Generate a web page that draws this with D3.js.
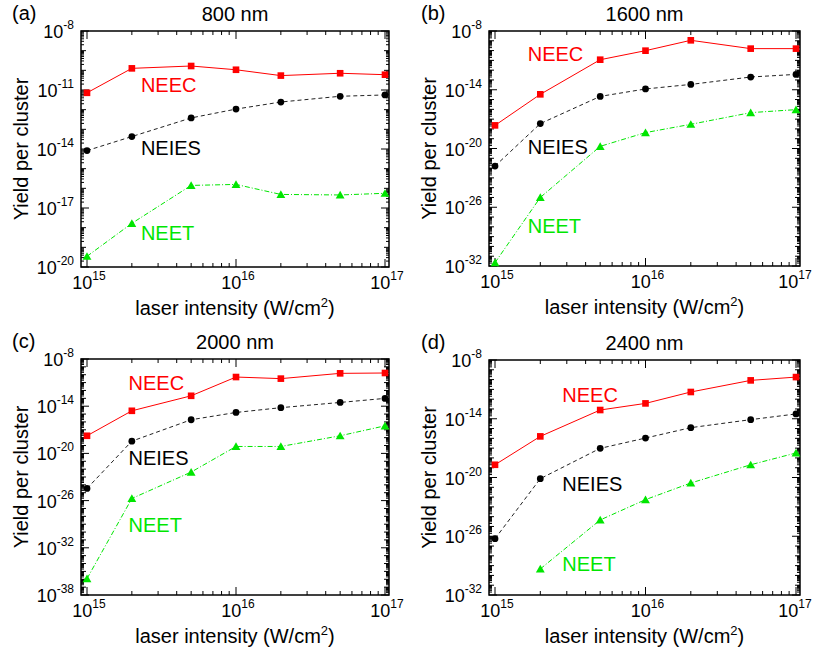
<!DOCTYPE html>
<html>
<head>
<meta charset="utf-8">
<script src="https://cdn.jsdelivr.net/npm/d3@7"></script>
<style>
  body { margin: 0; background: #fff; }
  svg { font-family: "Liberation Sans", Arial, sans-serif; }
</style>
</head>
<body>
<div id="chart"></div>
<script>
// laser intensity (W/cm2), same for all panels
var intensity = [1e15, 2e15, 5e15, 1e16, 2e16, 5e16, 1e17];

// yield per cluster
var neec800  = [7.2e-12, 1.26e-10, 1.66e-10, 1.07e-10, 5.4e-11, 7.1e-11, 6.0e-11];
var neies800 = [8.3e-15, 4.3e-14, 3.8e-13, 1.07e-12, 2.45e-12, 4.8e-12, 5.6e-12];
var neet800  = [3.5e-20, 1.66e-18, 1.41e-16, 1.58e-16, 4.9e-17, 4.6e-17, 5.6e-17];

var neec1600  = [2.3e-18, 3.4e-15, 1.17e-11, 9.8e-11, 1.12e-9, 1.58e-10, 1.58e-10];
var neies1600 = [1.6e-22, 3.5e-18, 2.1e-15, 1.2e-14, 3.5e-14, 2.0e-13, 3.7e-13];
var neet1600  = [2.2e-32, 1.0e-25, 1.66e-20, 4.2e-19, 2.95e-18, 4.6e-17, 9.3e-17];

var neec2000  = [1.74e-18, 2.6e-15, 2.1e-13, 5.1e-11, 3.2e-11, 1.5e-10, 1.66e-10];
var neies2000 = [3.5e-25, 3.6e-19, 1.9e-16, 1.6e-15, 6.5e-15, 3.0e-14, 9.8e-14];
var neet2000  = [1.2e-36, 1.86e-26, 4.2e-23, 7.6e-20, 7.6e-20, 1.74e-18, 3.2e-17];

var neec2400  = [2.0e-19, 1.58e-16, 7.8e-14, 3.7e-13, 5.4e-12, 8.3e-11, 1.8e-10];
var neies2400 = [5.6e-27, 7.6e-21, 9.5e-18, 1.07e-16, 1.23e-15, 8.1e-15, 3.1e-14];
var neet2400  = [null, 4.6e-30, 4.6e-25, 5.5e-23, 2.75e-21, 2.0e-19, 3.2e-18];

// y tick exponents for each panel
var yTicks800  = [-8, -11, -14, -17, -20];
var yTicks1600 = [-8, -14, -20, -26, -32];
var yTicks2000 = [-8, -14, -20, -26, -32, -38];
var yTicks2400 = [-8, -14, -20, -26, -32];
var xTicks = [15, 16, 17];

// where the series names sit (intensity, yield)
var names = ["NEEC", "NEIES", "NEET"];
var labels800  = [[2.3e15, 8e-12], [2.3e15, 5e-15], [2.3e15, 2.5e-19]];
var labels1600 = [[1.65e15, 8e-12], [1.65e15, 3e-21], [1.65e15, 2.5e-29]];
var labels2000 = [[1.9e15, 1.3e-12], [1.9e15, 3.5e-22], [1.9e15, 1e-30]];
var labels2400 = [[2.8e15, 5e-13], [2.8e15, 4e-22], [2.8e15, 2.8e-30]];

var W = 813, H = 652;
var svg = d3.select("#chart").append("svg")
  .attr("width", W).attr("height", H);

var styles = [
  {color: "#ff0000", dash: null, marker: "square", textColor: "#ff0000"},
  {color: "#222222", dash: "4,3", marker: "circle", textColor: "#000000"},
  {color: "#00e600", dash: "5,2,1,2", marker: "triangle", textColor: "#00e600"}
];

var panels = [
  {tag: "(a)", title: "800 nm", left: 81, top: 31, right: 389, bottom: 267, ymin: -20, yticks: yTicks800,
   series: [neec800, neies800, neet800], labels: labels800, tagX: 12, titleY: 21, tagY: 20},
  {tag: "(b)", title: "1600 nm", left: 489, top: 31, right: 800, bottom: 266, ymin: -32, yticks: yTicks1600,
   series: [neec1600, neies1600, neet1600], labels: labels1600, tagX: 421, titleY: 21, tagY: 20},
  {tag: "(c)", title: "2000 nm", left: 81, top: 359, right: 389, bottom: 595, ymin: -38, yticks: yTicks2000,
   series: [neec2000, neies2000, neet2000], labels: labels2000, tagX: 12, titleY: 349, tagY: 348},
  {tag: "(d)", title: "2400 nm", left: 489, top: 360, right: 800, bottom: 595, ymin: -32, yticks: yTicks2400,
   series: [neec2400, neies2400, neet2400], labels: labels2400, tagX: 421, titleY: 350, tagY: 349}
];

function pow10Label(sel, base, exp, anchor) {
  var t = sel.append("text").attr("text-anchor", anchor).attr("font-size", 18).attr("fill", "#000");
  t.append("tspan").text(base);
  t.append("tspan").attr("font-size", 12).attr("dy", -9).text(exp);
  return t;
}

panels.forEach(function(p) {
  var g = svg.append("g");

  var x = d3.scaleLog().domain([1e15, 1e17]).range([p.left + 6, p.right - 4]);
  var y = d3.scaleLog().domain([Math.pow(10, p.ymin), 1e-8]).range([p.bottom, p.top]);

  // x ticks: decades + 2..9 minor, bottom and top, pointing inward
  var xMinor = [];
  for (var e = 15; e < 17; e++) for (var k = 2; k <= 9; k++) xMinor.push(k * Math.pow(10, e));
  xMinor.forEach(function(v) {
    g.append("line").attr("x1", x(v)).attr("x2", x(v)).attr("y1", p.bottom).attr("y2", p.bottom - 4).attr("stroke", "#000");
    g.append("line").attr("x1", x(v)).attr("x2", x(v)).attr("y1", p.top).attr("y2", p.top + 4).attr("stroke", "#000");
  });
  xTicks.forEach(function(e) {
    var v = Math.pow(10, e);
    g.append("line").attr("x1", x(v)).attr("x2", x(v)).attr("y1", p.bottom).attr("y2", p.bottom - 8).attr("stroke", "#000");
    g.append("line").attr("x1", x(v)).attr("x2", x(v)).attr("y1", p.top).attr("y2", p.top + 8).attr("stroke", "#000");
    var t = pow10Label(g, "10", String(e), "middle");
    t.attr("x", x(v) + 2).attr("y", p.bottom + 22);
    // keep the last label inside the page
    var bb = t.node().getBBox();
    if (bb.x + bb.width > W - 1) t.attr("x", x(v) + 2 - (bb.x + bb.width - (W - 1)));
  });

  // y ticks: each decade + 2..9 minor, left and right
  for (var d = p.ymin; d < -8; d++) {
    for (var m = 2; m <= 9; m++) {
      var yy = y(m * Math.pow(10, d));
      g.append("line").attr("x1", p.left).attr("x2", p.left + 3).attr("y1", yy).attr("y2", yy).attr("stroke", "#000");
      g.append("line").attr("x1", p.right).attr("x2", p.right - 3).attr("y1", yy).attr("y2", yy).attr("stroke", "#000");
    }
  }
  for (var d2 = p.ymin; d2 <= -8; d2++) {
    var yd = y(Math.pow(10, d2));
    var len = p.yticks.indexOf(d2) >= 0 ? 8 : 5;
    g.append("line").attr("x1", p.left).attr("x2", p.left + len).attr("y1", yd).attr("y2", yd).attr("stroke", "#000");
    g.append("line").attr("x1", p.right).attr("x2", p.right - len).attr("y1", yd).attr("y2", yd).attr("stroke", "#000");
  }
  p.yticks.forEach(function(e) {
    var t = pow10Label(g, "10", String(e), "end");
    t.attr("x", p.left - 7).attr("y", y(Math.pow(10, e)) + 7);
  });

  // frame
  g.append("rect").attr("x", p.left).attr("y", p.top)
    .attr("width", p.right - p.left).attr("height", p.bottom - p.top)
    .attr("fill", "none").attr("stroke", "#000").attr("stroke-width", 1.5);

  // series
  p.series.forEach(function(vals, i) {
    var st = styles[i];
    var pts = intensity.map(function(v, j) { return [v, vals[j]]; }).filter(function(d) { return d[1] != null; });
    var line = d3.line().x(function(d) { return x(d[0]); }).y(function(d) { return y(d[1]); });
    g.append("path").datum(pts).attr("d", line)
      .attr("fill", "none").attr("stroke", st.color).attr("stroke-width", 1)
      .attr("stroke-dasharray", st.dash);
    var sym = st.marker === "square" ? d3.symbolSquare : st.marker === "circle" ? d3.symbolCircle : d3.symbolTriangle;
    var size = st.marker === "square" ? 44 : st.marker === "circle" ? 36 : 34;
    g.selectAll(null).data(pts).enter().append("path")
      .attr("d", d3.symbol().type(sym).size(size))
      .attr("transform", function(d) { return "translate(" + x(d[0]) + "," + (y(d[1]) + (st.marker === "triangle" ? 1 : 0)) + ")"; })
      .attr("fill", st.color === "#222222" ? "#000" : st.color);

    // series name
    var lab = p.labels[i];
    g.append("text").attr("x", x(lab[0])).attr("y", y(lab[1]))
      .attr("font-size", 20).attr("fill", st.textColor).text(names[i]);
  });

  // titles and axis labels
  g.append("text").attr("x", (p.left + p.right) / 2).attr("y", p.titleY)
    .attr("text-anchor", "middle").attr("font-size", 20).text(p.title);
  g.append("text").attr("x", p.tagX).attr("y", p.tagY)
    .attr("font-size", 20).text(p.tag);

  g.append("text")
    .attr("transform", "translate(" + (p.left - 53) + "," + ((p.top + p.bottom) / 2) + ") rotate(-90)")
    .attr("text-anchor", "middle").attr("font-size", 20).text("Yield per cluster");

  var xl = g.append("text").attr("x", (p.left + p.right) / 2).attr("y", p.bottom + 48)
    .attr("text-anchor", "middle").attr("font-size", 20);
  xl.append("tspan").text("laser intensity (W/cm");
  xl.append("tspan").attr("font-size", 13).attr("dy", -8).text("2");
  xl.append("tspan").attr("dy", 8).text(")");
});
</script>
</body>
</html>
